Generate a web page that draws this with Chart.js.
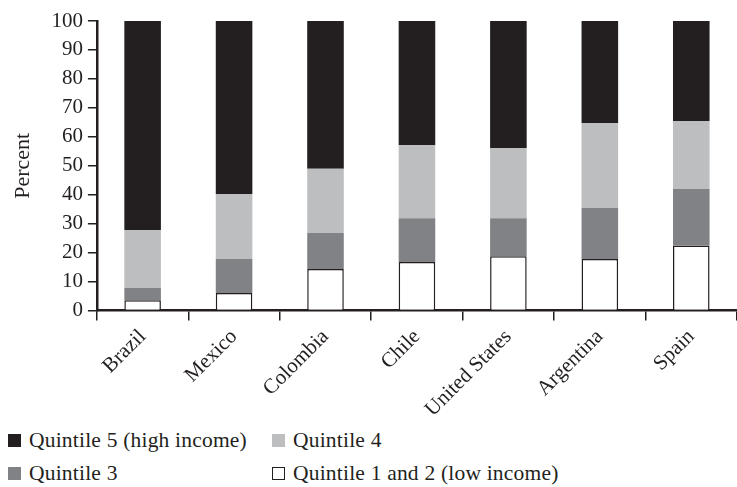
<!DOCTYPE html>
<html>
<head>
<meta charset="utf-8">
<script src="https://cdn.jsdelivr.net/npm/chart.js@4/dist/chart.umd.min.js"></script>
<style>
  body { margin: 0; background: #fff; width: 737px; height: 487px; overflow: hidden; position: relative; }
  #wrap { position: absolute; left: 0; top: 0; width: 737px; height: 426px; }
  #legend { position: absolute; left: 8px; top: 428px; font-family: "Liberation Serif", serif; font-size: 21.5px; color: #231f20;
            display: grid; grid-template-columns: 264px 300px; row-gap: 9px; letter-spacing: 0.2px; }
  #legend div { display: flex; align-items: center; height: 24px; white-space: nowrap; }
  #legend span.box { display: inline-block; width: 13px; height: 13px; margin-right: 8px; box-sizing: border-box; }
</style>
</head>
<body>
<div id="wrap"><canvas id="bar-chart"></canvas></div>
<div id="legend"></div>
<script>
const countries = ["Brazil", "Mexico", "Colombia", "Chile", "United States", "Argentina", "Spain"];
const quintile12 = [3.6, 6.1, 14.4, 16.8, 18.8, 17.8, 22.5];
const quintile3 = [4.2, 11.7, 12.4, 15.1, 13.1, 17.6, 19.5];
const quintile4 = [20.0, 22.5, 22.2, 25.2, 24.2, 29.4, 23.5];
const quintile5 = [72.2, 59.7, 51.0, 42.9, 43.9, 35.2, 34.5];
const yTicks = [0, 10, 20, 30, 40, 50, 60, 70, 80, 90, 100];

const ink = "#231f20";
const serif = "'Liberation Serif', 'DejaVu Serif', serif";

// stacking order bottom -> top, legend shows it reversed
let datasets = [
    { label: "Quintile 1 and 2 (low income)", data: quintile12, backgroundColor: "#ffffff", borderColor: ink, borderWidth: 1.5 },
    { label: "Quintile 3", data: quintile3, backgroundColor: "#808285", borderWidth: 0 },
    { label: "Quintile 4", data: quintile4, backgroundColor: "#bcbec0", borderWidth: 0 },
    { label: "Quintile 5 (high income)", data: quintile5, backgroundColor: ink, borderWidth: 0 }
];
datasets.forEach(d => { d.barPercentage = 0.4; d.categoryPercentage = 1; });

const myChart = new Chart(document.querySelector('#bar-chart'), {
    type: 'bar',
    data: { labels: countries, datasets: datasets },
    options: {
        responsive: true,
        maintainAspectRatio: false,
        animation: false,
        layout: { padding: { top: 21, left: 10, right: 0, bottom: 0 } },
        plugins: { legend: { display: false }, tooltip: { enabled: false } },
        scales: {
            x: {
                stacked: true,
                offset: true,
                grid: { drawOnChartArea: false, offset: true, drawTicks: true, tickLength: 10, color: ink, lineWidth: 1.5 },
                border: { display: true, color: ink, width: 2.5 },
                ticks: { font: { family: serif, size: 21 }, color: ink, minRotation: 45, maxRotation: 45, padding: 4, autoSkip: false }
            },
            y: {
                stacked: true,
                min: 0,
                max: 100,
                afterBuildTicks: axis => { axis.ticks = yTicks.map(v => ({ value: v })); },
                grid: { drawOnChartArea: false, drawTicks: true, tickLength: 9, color: ink, lineWidth: 1.5 },
                border: { display: true, color: ink, width: 2.5 },
                ticks: { font: { family: serif, size: 21 }, color: ink, padding: 5, autoSkip: false },
                title: { display: true, text: "Percent", font: { family: serif, size: 22 }, color: ink, padding: { top: 0, bottom: 10 } }
            }
        }
    }
});

// legend in two columns, as in the printed figure
let html = "";
for (let i = datasets.length - 1; i >= 0; i--) {
    let d = datasets[i];
    let border = d.borderWidth ? `border:1px solid ${ink};` : "";
    html += `<div><span class="box" style="background:${d.backgroundColor};${border}"></span>${d.label}</div>`;
}
document.querySelector('#legend').innerHTML = html;
</script>
</body>
</html>
